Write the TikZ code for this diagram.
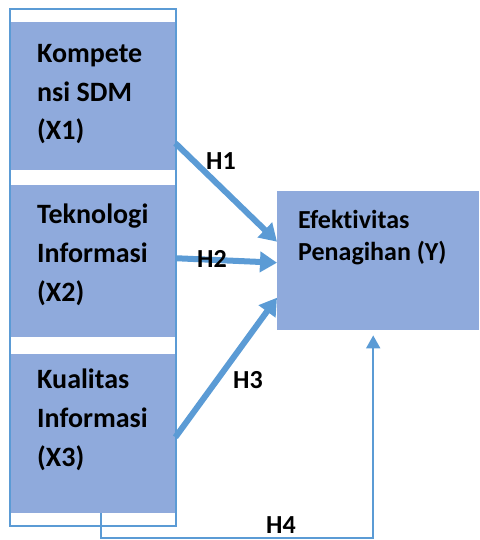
\documentclass[tikz,border=0pt]{standalone}
\usepackage{fontspec}
\setmainfont{Carlito}[Ligatures=NoCommon]
\usetikzlibrary{arrows.meta}

\definecolor{kotak}{HTML}{8FAADC}
\definecolor{garis}{HTML}{5B9BD5}

\tikzset{
	kotakx/.style={fill=kotak, inner sep=0, anchor=north west},
	teks/.style={font=\bfseries\fontsize{28}{38.8}\selectfont, align=left, inner sep=0, anchor=base west},
	teksy/.style={font=\bfseries\fontsize{26}{32}\selectfont, align=left, inner sep=0, anchor=base west},
	hlabel/.style={font=\bfseries\fontsize{26}{30}\selectfont, inner sep=0},
	panah/.style={garis, line width=6pt, -{Triangle[length=17pt,width=20pt]}},
	panahtipis/.style={garis, line width=2pt, -{Triangle[length=13pt,width=14pt]}}
}

\begin{document}
\begin{tikzpicture}[x=1pt, y=-1pt]
		\useasboundingbox (0, 0) rectangle (479, 540);

		\node[kotakx, minimum width=164pt, minimum height=148pt] (k1) at (11, 22) {};
		\node[kotakx, minimum width=164pt, minimum height=152pt] (k2) at (11, 185) {};
		\node[kotakx, minimum width=164pt, minimum height=159pt] (k3) at (11, 354) {};
		\node[kotakx, minimum width=202pt, minimum height=139pt] (y) at (277, 191) {};

		\draw[garis, line width=2pt] (10, 9) rectangle (176, 526);

		% baseline = baris terakhir
		\node[teks] (t1) at (37, 140) {Kompete\\nsi SDM\\(X1)};
		\node[teks] (t2) at (37, 301) {Teknologi\\Informasi\\(X2)};
		\node[teks] (t3) at (37, 466) {Kualitas\\Informasi\\(X3)};
		\node[teksy] (ty) at (298, 260) {Efektivitas\\Penagihan (Y)};

		% hipotesis
		\draw[panah] ([yshift=-47pt]k1.east) -- ([yshift=19pt]y.west);
		\draw[panah] ([yshift=3pt]k2.east) -- ([yshift=-2pt]y.west);
		\draw[panah] ([yshift=-3.5pt]k3.east) -- ([yshift=-37pt]y.west);
		\draw[panahtipis] ([xshift=7.7pt]k3.south) -- ++(0, 25) -| ([xshift=-5pt, yshift=-5pt]y.south);

		\node[hlabel] (h1) at (221, 161) {H1};
		\node[hlabel] (h2) at (212, 259) {H2};
		\node[hlabel] (h3) at (248, 380) {H3};
		\node[hlabel] (h4) at (281, 525.5) {H4};
	\end{tikzpicture}
\end{document}
